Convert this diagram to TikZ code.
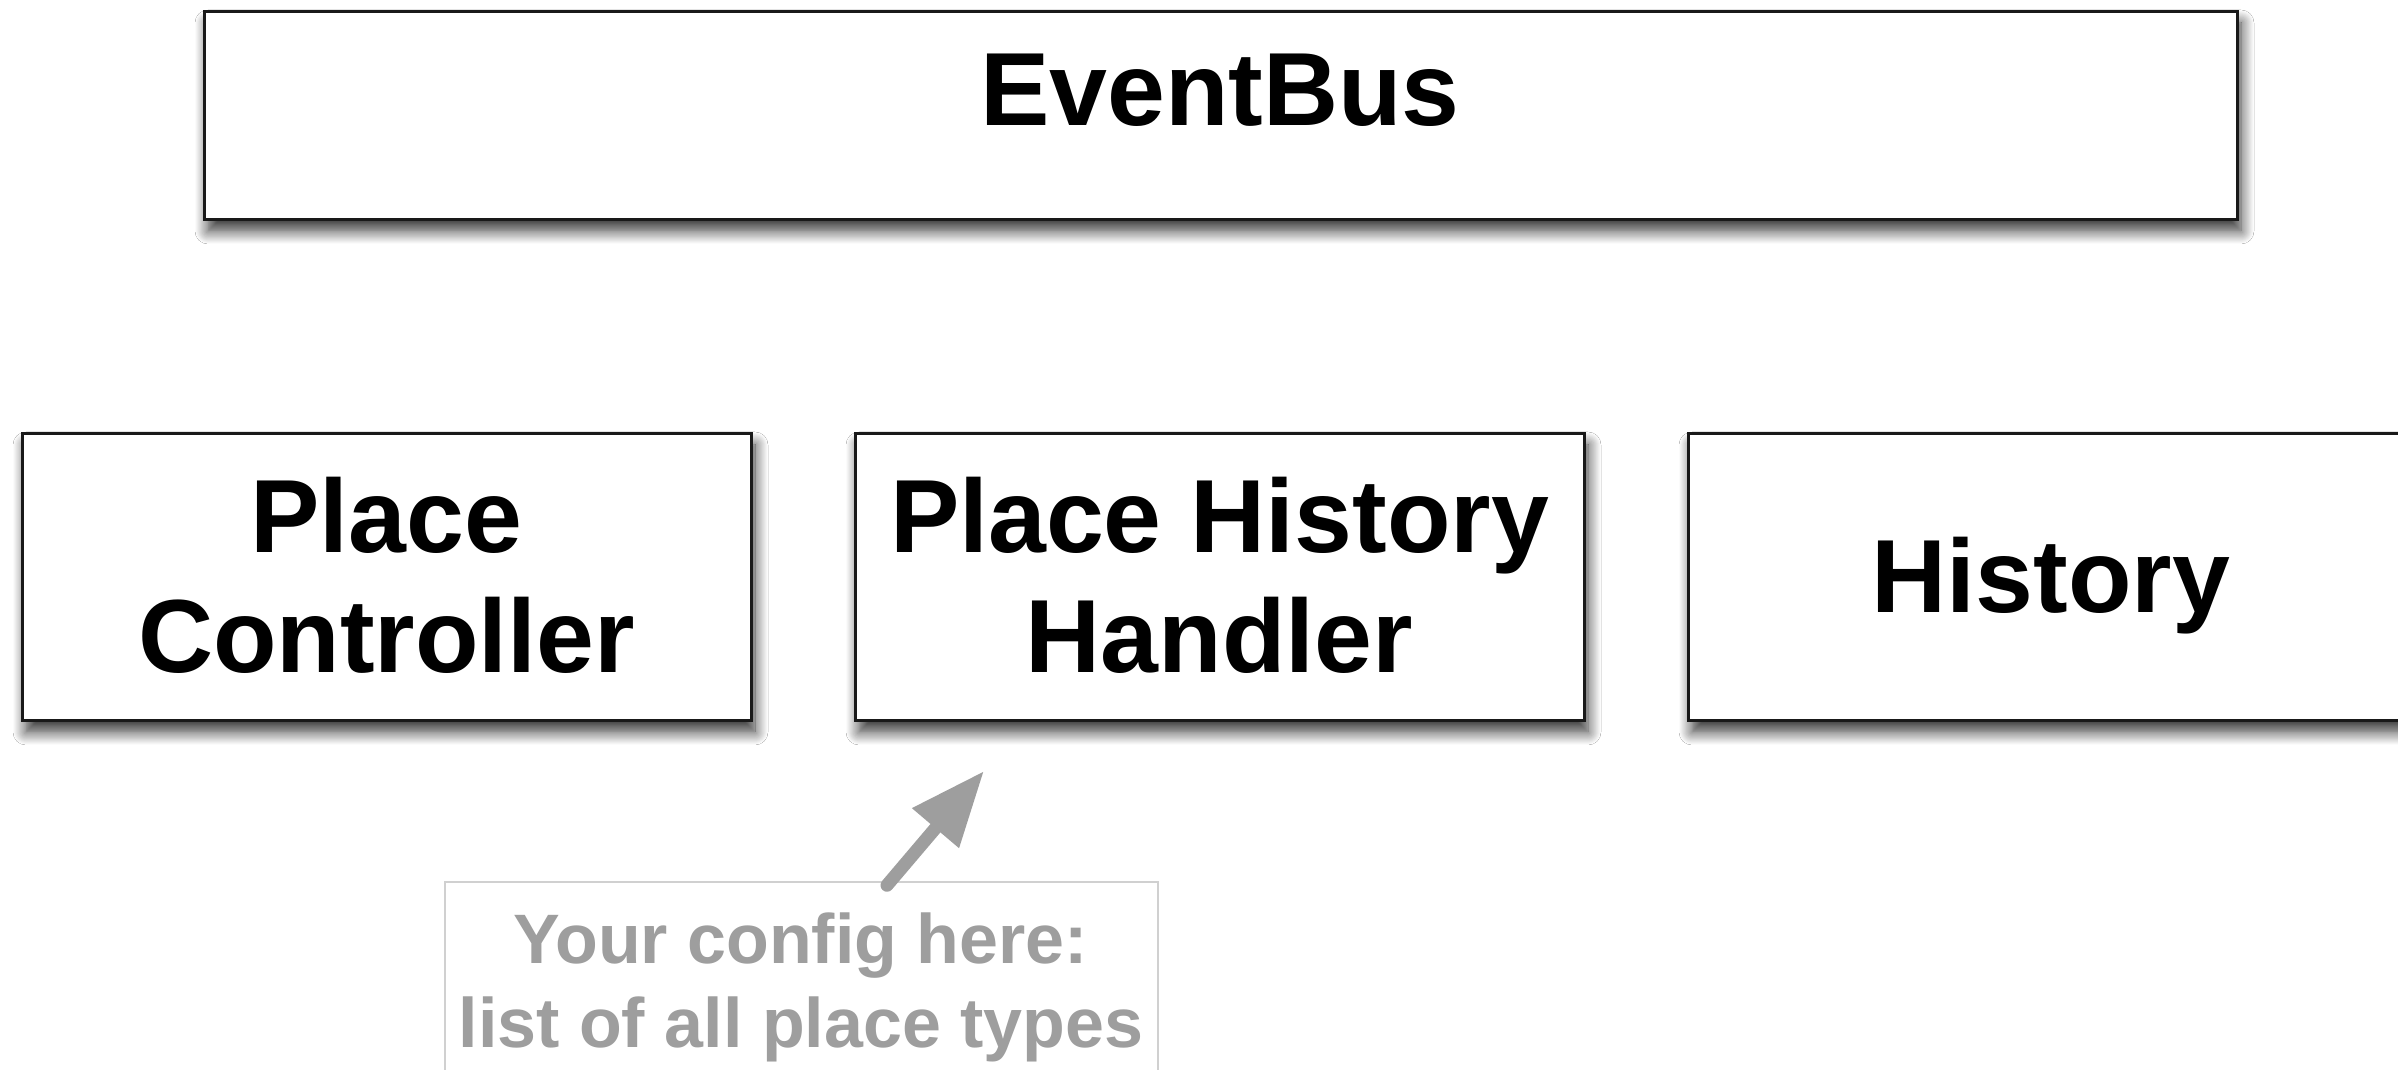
\documentclass[tikz,border=0pt]{standalone}
\usepackage{fontspec}
\setmainfont{Liberation Sans}
\usetikzlibrary{arrows.meta,shadows.blur,calc}
\definecolor{notegray}{HTML}{9E9E9E}
\definecolor{noteborder}{HTML}{D0D0D0}
\begin{document}
\begin{tikzpicture}[x=1pt,y=1pt,
  box/.style={draw=black!90, line width=3pt, fill=white, inner sep=0pt,
    blur shadow={shadow xshift=4pt, shadow yshift=-11pt, shadow blur radius=13pt, shadow blur steps=14, shadow opacity=80}},
  bigtxt/.style={anchor=base, inner sep=0pt, font=\fontsize{104}{120}\selectfont\bfseries},
  notetxt/.style={anchor=base, inner sep=0pt, text=notegray, font=\fontsize{70}{84}\selectfont\bfseries},
  notebox/.style={draw=noteborder, line width=1.5pt, fill=white, inner sep=0pt}]
\useasboundingbox (0,0) rectangle (2398,1069);
\fill[white] (0,0) rectangle (2398,1069);
% boxes
\node[box, minimum width=2033pt, minimum height=208pt] (eb) at (1220.5,953) {};
\node[box, minimum width=729pt, minimum height=287pt] (pc) at (386.5,491.5) {};
\node[box, minimum width=729pt, minimum height=287pt] (phh) at (1219.5,491.5) {};
\node[box, minimum width=729pt, minimum height=287pt] (hist) at (2052.5,491.5) {};
% labels
\node[bigtxt] (ebT) at (1220,943) {EventBus};
\node[bigtxt] (pcT1) at (386.5,516) {Place};
\node[bigtxt] (pcT2) at (386.5,396) {Controller};
\node[bigtxt] (phhT1) at (1219.5,516) {Place History};
\node[bigtxt] (phhT2) at (1219.5,396) {Handler};
\node[bigtxt] (histT) at (2051,456) {History};
% note
\node[notebox, minimum width=713pt, minimum height=260pt] (note) at (801.5,57) {};
\node[notetxt] (noteT1) at (801,106) {Your config here:};
\node[notetxt] (noteT2) at (801,22) {list of all place types};
% arrow
\coordinate (tail) at ($(note.north)+(85.5,-4)$);
\coordinate (tip) at (984,298);
\draw[notegray, line width=13pt, line cap=round, -{Triangle[length=75pt,width=58pt]}] (tail) -- (tip);
\end{tikzpicture}
\end{document}
